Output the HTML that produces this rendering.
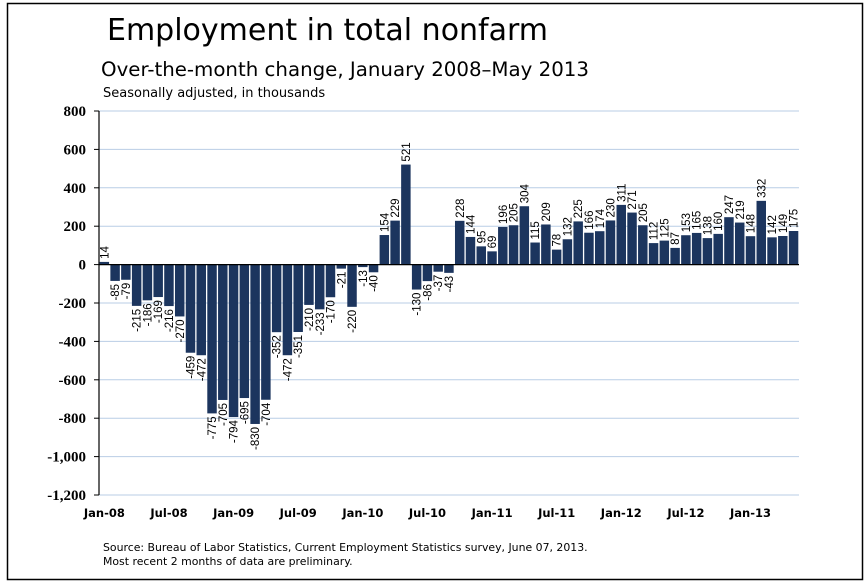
<!DOCTYPE html>
<html><head><meta charset="utf-8"><style>
body{margin:0;background:#fff;width:867px;height:588px;overflow:hidden}
svg{display:block}
</style></head><body>
<svg id="c" width="867" height="588" xmlns="http://www.w3.org/2000/svg">
<rect x="7.5" y="3.5" width="855" height="576" fill="none" stroke="#000" stroke-width="1.5"/>
<text x="107" y="40" font-family="DejaVu Sans, sans-serif" font-size="30" fill="#000">Employment in total nonfarm</text>
<text x="101" y="76" font-family="DejaVu Sans, sans-serif" font-size="19.8" fill="#000">Over-the-month change, January 2008–May 2013</text>
<text x="103" y="97" font-family="DejaVu Sans, sans-serif" font-size="13" fill="#000">Seasonally adjusted, in thousands</text>
<text x="103" y="551" font-family="DejaVu Sans, sans-serif" font-size="10.9" fill="#000">Source: Bureau of Labor Statistics, Current Employment Statistics survey, June 07, 2013.</text>
<text x="103" y="565" font-family="DejaVu Sans, sans-serif" font-size="10.9" fill="#000">Most recent 2 months of data are preliminary.</text>
<g id="grid"></g><g id="bars"></g><g id="axes"></g>
</svg>
<script>
const values=[14,-85,-79,-215,-186,-169,-216,-270,-459,-472,-775,-705,-794,-695,-830,-704,-352,-472,-351,-210,-233,-170,-21,-220,-13,-40,154,229,521,-130,-86,-37,-43,228,144,95,69,196,205,304,115,209,78,132,225,166,174,230,311,271,205,112,125,87,153,165,138,160,247,219,148,332,142,149,175];
const yTicks=[800,600,400,200,0,-200,-400,-600,-800,-1000,-1200];
const xTickLabels=["Jan-08","Jul-08","Jan-09","Jul-09","Jan-10","Jul-10","Jan-11","Jul-11","Jan-12","Jul-12","Jan-13"];
const NS="http://www.w3.org/2000/svg";
const X0=99,X1=799,Y0=111,Y1=495,YMAX=800,YMIN=-1200;
const slot=(X1-X0)/values.length;
function y(v){return Y0+(YMAX-v)*(Y1-Y0)/(YMAX-YMIN);}
function x(i){return X0+i*slot;}
function mk(t,a,p){const e=document.createElementNS(NS,t);for(const k in a)e.setAttribute(k,a[k]);p.appendChild(e);return e;}
const grid=document.getElementById('grid'),bars=document.getElementById('bars'),axes=document.getElementById('axes');
yTicks.forEach(t=>{
  if(t!==0){const g=mk('line',{x1:X0,x2:X1,y1:y(t),y2:y(t),stroke:'#b9cde5','stroke-width':1},grid);
  
  }
  const tk=mk('line',{x1:X0-5,x2:X0,y1:y(t),y2:y(t),stroke:'#000'},axes);
  
  
  const lb=mk('text',{x:86,y:y(t)+5,'text-anchor':'end','font-family':'Liberation Serif, serif','font-weight':'bold','font-size':15},axes);
  lb.textContent=t===0?'0':(t<0?'-':'')+Math.abs(t).toLocaleString('en-US');
  
  
});
values.forEach((v,i)=>{
  const top=Math.min(y(v),y(0)),h=Math.abs(y(v)-y(0));
  const r=mk('rect',{x:x(i)+0.6,y:top,width:slot-1.3,height:Math.max(h,0.5),fill:'#1c355e'},bars);
  
  
  const cx=x(i)+slot/2+4,ly=v>=0?y(v)-3:y(v)+3;
  const t=mk('text',{x:0,y:0,transform:`translate(${cx},${ly}) rotate(-90)`,'text-anchor':v>=0?'start':'end','font-family':'Liberation Sans, sans-serif','font-size':11.5,fill:'#000'},bars);
  t.textContent=v;
  
  
});
const ya=mk('line',{x1:X0,x2:X0,y1:Y0,y2:Y1,stroke:'#000','stroke-width':1.2},axes);


const xa=mk('line',{x1:X0,x2:X1,y1:y(0),y2:y(0),stroke:'#000','stroke-width':1.2},axes);


xTickLabels.forEach((l,k)=>{
  const t=mk('text',{x:x(k*6)+slot/2,y:517,'text-anchor':'middle','font-family':'DejaVu Sans, sans-serif','font-weight':'bold','font-size':11.5},axes);
  t.textContent=l;
  
  
});
</script>
</body></html>
